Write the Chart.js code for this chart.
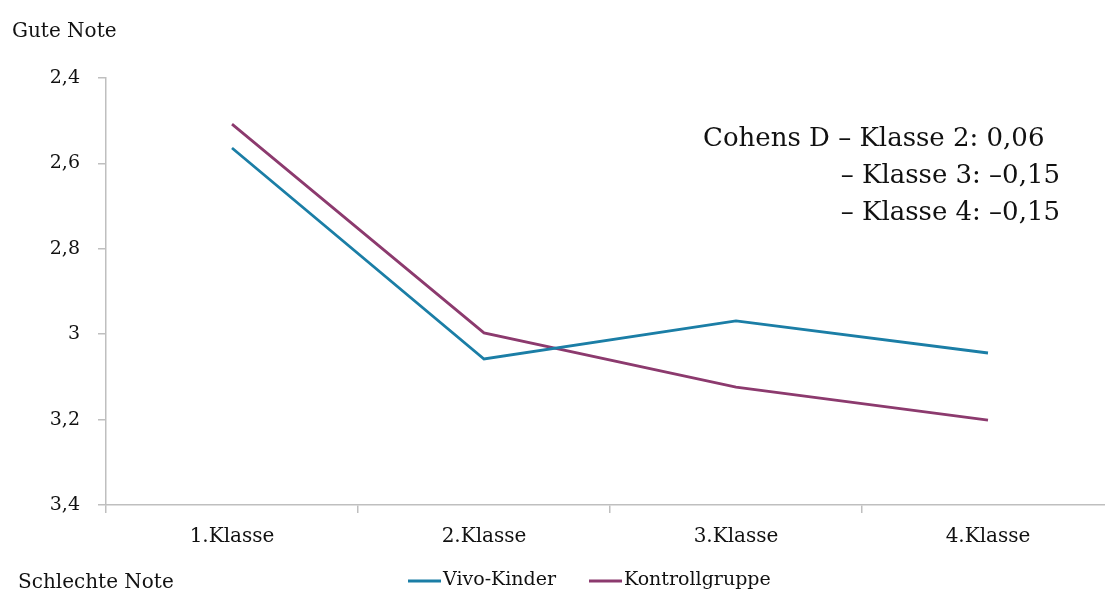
<!DOCTYPE html>
<html>
<head>
<meta charset="utf-8">
<script src="https://cdn.jsdelivr.net/npm/chart.js@4/dist/chart.umd.min.js"></script>
<style>
    html, body { margin: 0; padding: 0; background: #fff; overflow: hidden; }
    #wrap { position: relative; width: 1114px; height: 592px; }
</style>
</head>
<body>
<div id="wrap"><canvas id="noteChart"></canvas></div>
<script>
// Chart data
const classes = ['1.Klasse', '2.Klasse', '3.Klasse', '4.Klasse'];
const vivoKinder = [2.564, 3.058, 2.969, 3.044];
const kontrollgruppe = [2.508, 2.997, 3.124, 3.201];
const yTicks = [2.4, 2.6, 2.8, 3.0, 3.2, 3.4];
const cohensLines = ['Cohens D \u2013 Klasse 2: 0,06', '\u2013 Klasse 3: \u20130,15', '\u2013 Klasse 4: \u20130,15'];

const BLUE = '#1b7ea6';
const PURPLE = '#8c3a6e';
const AXIS = '#bfbfbf';
const TEXT = '#111';
const FONT = "'DejaVu Serif', serif";

function fmt(v) {
    return String(Math.round(v * 10) / 10).replace('.', ',');
}

// Axis captions, the Cohens D note and the legend row at the bottom
const annotations = {
    id: 'annotations',
    afterDraw: function(chart) {
        const c = chart.ctx;
        c.save();
        c.fillStyle = TEXT;
        c.textBaseline = 'alphabetic';

        c.font = '20px ' + FONT;
        c.textAlign = 'left';
        c.fillText('Gute Note', 12, 37);
        c.fillText('Schlechte Note', 18, 588);

        c.font = '26px ' + FONT;
        c.fillText(cohensLines[0], 703, 146);
        c.textAlign = 'right';
        c.fillText(cohensLines[1], 1060, 183);
        c.fillText(cohensLines[2], 1060, 220);

        // legend, taken from the datasets
        c.font = '19px ' + FONT;
        c.textAlign = 'left';
        c.textBaseline = 'middle';
        const starts = [408, 589];
        chart.data.datasets.forEach(function(ds, i) {
            const x = starts[i];
            c.strokeStyle = ds.borderColor;
            c.lineWidth = 3;
            c.beginPath();
            c.moveTo(x, 581);
            c.lineTo(x + 33, 581);
            c.stroke();
            c.fillText(ds.label, x + 35, 580);
        });
        c.restore();
    }
};

window.renderNoteChart = function(canvasId) {
    const ctx = document.getElementById(canvasId);
    if (!ctx) return;

    if (ctx.chart) {
        ctx.chart.destroy();
    }

    Chart.defaults.color = TEXT;

    ctx.chart = new Chart(ctx, {
        type: 'line',
        data: {
            labels: classes,
            datasets: [{
                label: 'Vivo-Kinder',
                data: vivoKinder,
                borderColor: BLUE,
                backgroundColor: BLUE
            }, {
                label: 'Kontrollgruppe',
                data: kontrollgruppe,
                borderColor: PURPLE,
                backgroundColor: PURPLE
            }]
        },
        options: {
            responsive: true,
            maintainAspectRatio: false,
            animation: false,
            elements: {
                line: { borderWidth: 2.8, tension: 0 },
                point: { radius: 0, hoverRadius: 0 }
            },
            layout: {
                padding: { top: 78, left: 0, right: 0, bottom: 0 }
            },
            plugins: {
                legend: { display: false },
                tooltip: { enabled: false }
            },
            scales: {
                y: {
                    reverse: true,
                    min: 2.4,
                    max: 3.4,
                    afterBuildTicks: function(scale) {
                        scale.ticks = yTicks.map(function(v) { return { value: v }; });
                    },
                    afterFit: function(scale) { scale.width = 106; },
                    ticks: {
                        padding: 18,
                        font: { family: FONT, size: 19 },
                        color: TEXT,
                        callback: function(v) { return fmt(v); }
                    },
                    grid: {
                        drawOnChartArea: false,
                        drawTicks: true,
                        tickLength: 8,
                        color: AXIS,
                        lineWidth: 1.5
                    },
                    border: { display: true, color: AXIS, width: 1.5 }
                },
                x: {
                    offset: true,
                    afterFit: function(scale) { scale.height = 87; },
                    ticks: {
                        padding: 12,
                        font: { family: FONT, size: 20 },
                        color: TEXT
                    },
                    grid: {
                        offset: true,
                        drawOnChartArea: false,
                        drawTicks: true,
                        tickLength: 8,
                        color: AXIS,
                        lineWidth: 1.5
                    },
                    border: { display: true, color: AXIS, width: 1.5 }
                }
            }
        },
        plugins: [annotations]
    });
};

document.addEventListener('DOMContentLoaded', function() {
    window.renderNoteChart('noteChart');
});
</script>
</body>
</html>
